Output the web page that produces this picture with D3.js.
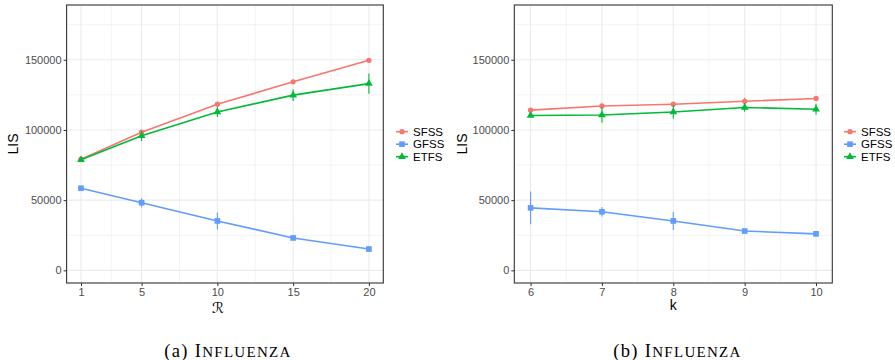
<!DOCTYPE html>
<html>
<head>
<meta charset="utf-8">
<script src="https://cdn.jsdelivr.net/npm/d3@7"></script>
<style>
  html, body { margin: 0; padding: 0; background: #fff; }
  svg { display: block; }
</style>
</head>
<body>
<svg id="chart" width="895" height="360"></svg>
<script>
// Series names and colours
const seriesNames = ["SFSS", "GFSS", "ETFS"];
const seriesColors = ["#F8766D", "#619CFF", "#00BA38"];

// Panel (a): LIS against R
const rValues = [1, 5, 10, 15, 20];
const sfssR = [79200, 98400, 118300, 134300, 149600];
const gfssR = [58500, 48200, 35200, 23100, 15200];
const etfsR = [78700, 95800, 112800, 124800, 133000];
const sfssRErr = [800, 1000, 1000, 900, 1200];
const gfssRErr = [1000, 3200, 6000, 900, 1800];
const etfsRErr = [1000, 3600, 3600, 4200, 7200];

// Panel (b): LIS against k
const kValues = [6, 7, 8, 9, 10];
const sfssK = [114100, 117100, 118300, 120400, 122400];
const gfssK = [44500, 41700, 35200, 28000, 26000];
const etfsK = [110300, 110700, 112800, 116000, 114800];
const sfssKErr = [1000, 1000, 1000, 2800, 1200];
const gfssKErr = [11600, 3300, 6400, 800, 800];
const etfsKErr = [1000, 5600, 4800, 3000, 3800];

// Axis ticks
const yTicks = [0, 50000, 100000, 150000];
const yMinor = [25000, 75000, 125000, 175000];
const yLimits = [0, 180000];
const rTicks = [1, 5, 10, 15, 20];
const rMinor = [3, 7.5, 12.5, 17.5];
const kTicks = [6, 7, 8, 9, 10];
const kMinor = [6.5, 7.5, 8.5, 9.5];

const SANS = "'Liberation Sans', Arial, Helvetica, sans-serif";
const SERIF = "'Liberation Serif', 'Times New Roman', serif";

const svg = d3.select("#chart");

function expand(lim, f) {
  const d = (lim[1] - lim[0]) * f;
  return [lim[0] - d, lim[1] + d];
}

function symbolPath(i) {
  if (i === 0) return d3.symbol().type(d3.symbolCircle).size(22)();
  if (i === 1) return d3.symbol().type(d3.symbolSquare).size(32)();
  return d3.symbol().type(d3.symbolTriangle).size(26)();
}

function drawPanel(p) {
  const g = svg.append("g");
  const x = d3.scaleLinear().domain(p.xDomain).range([p.left, p.right]);
  const y = d3.scaleLinear().domain(expand(yLimits, 0.05)).range([p.bottom, p.top]);

  // grid lines: minor first, then major
  const grid = g.append("g");
  grid.append("g").selectAll("line").data(yMinor).join("line")
    .attr("x1", p.left).attr("x2", p.right)
    .attr("y1", d => y(d)).attr("y2", d => y(d))
    .attr("stroke", "#EBEBEB").attr("stroke-width", 0.6);
  grid.append("g").selectAll("line").data(p.xMinor).join("line")
    .attr("y1", p.top).attr("y2", p.bottom)
    .attr("x1", d => x(d)).attr("x2", d => x(d))
    .attr("stroke", "#EBEBEB").attr("stroke-width", 0.6);
  grid.append("g").selectAll("line").data(yTicks).join("line")
    .attr("x1", p.left).attr("x2", p.right)
    .attr("y1", d => y(d)).attr("y2", d => y(d))
    .attr("stroke", "#EBEBEB").attr("stroke-width", 1.1);
  grid.append("g").selectAll("line").data(p.xTicks).join("line")
    .attr("y1", p.top).attr("y2", p.bottom)
    .attr("x1", d => x(d)).attr("x2", d => x(d))
    .attr("stroke", "#EBEBEB").attr("stroke-width", 1.1);

  // series: error bars, lines, points
  p.series.forEach((s, i) => {
    const color = seriesColors[i];
    const pts = p.xValues.map((xv, j) => ({ x: xv, y: s.values[j], e: s.err[j] }));
    g.append("g").selectAll("line").data(pts).join("line")
      .attr("x1", d => x(d.x)).attr("x2", d => x(d.x))
      .attr("y1", d => y(d.y - d.e)).attr("y2", d => y(d.y + d.e))
      .attr("stroke", color).attr("stroke-width", 1.1);
    g.append("path").datum(pts)
      .attr("d", d3.line().x(d => x(d.x)).y(d => y(d.y)))
      .attr("fill", "none").attr("stroke", color).attr("stroke-width", 1.6);
    g.append("g").selectAll("path").data(pts).join("path")
      .attr("transform", d => `translate(${x(d.x)},${y(d.y)})`)
      .attr("d", symbolPath(i))
      .attr("fill", color);
  });

  // panel border
  g.append("rect")
    .attr("x", p.left).attr("y", p.top)
    .attr("width", p.right - p.left).attr("height", p.bottom - p.top)
    .attr("fill", "none").attr("stroke", "#333333").attr("stroke-width", 1.1);

  // axes
  const yAxis = d3.axisLeft(y).tickValues(yTicks).tickSize(3).tickPadding(2).tickFormat(d3.format("d"));
  const ya = g.append("g").attr("transform", `translate(${p.left},0)`).call(yAxis);
  const xAxis = d3.axisBottom(x).tickValues(p.xTicks).tickSize(3).tickPadding(2).tickFormat(d3.format("d"));
  const xa = g.append("g").attr("transform", `translate(0,${p.bottom})`).call(xAxis);
  [ya, xa].forEach(ax => {
    ax.attr("font-family", SANS).attr("font-size", 11);
    ax.select(".domain").remove();
    ax.selectAll(".tick line").attr("stroke", "#333333").attr("stroke-width", 1);
    ax.selectAll(".tick text").attr("fill", "#4D4D4D");
  });

  // axis titles
  g.append("text")
    .attr("font-family", SANS).attr("font-size", 14).attr("fill", "#000")
    .attr("transform", `translate(${p.yTitleX},${(p.top + p.bottom) / 2}) rotate(-90)`)
    .attr("text-anchor", "middle").attr("dy", "0.35em").text("LIS");
  g.append("text")
    .attr("font-family", p.xTitleFont || SANS).attr("font-size", p.xTitleSize || 14).attr("fill", "#000")
    .attr("x", p.xTitleX).attr("y", p.xTitleY)
    .attr("text-anchor", "middle")
    .text(p.xTitle);

  // legend
  const lg = g.append("g").attr("transform", `translate(${p.legendX},${p.legendY})`);
  seriesNames.forEach((name, i) => {
    const row = lg.append("g").attr("transform", `translate(0,${i * 12.5})`);
    row.append("line").attr("x1", 0).attr("x2", 12).attr("y1", 0).attr("y2", 0)
      .attr("stroke", seriesColors[i]).attr("stroke-width", 1.6);
    row.append("path").attr("transform", "translate(6,0)").attr("d", symbolPath(i)).attr("fill", seriesColors[i]);
    row.append("text").attr("font-family", SANS).attr("font-size", 11.5).attr("fill", "#000")
      .attr("x", 17).attr("dy", "0.36em").text(name);
  });

  // caption: "(x) I" followed by the rest of the word as small capitals
  const cap = svg.append("text")
    .attr("font-family", SERIF).attr("font-size", 18.5).attr("fill", "#000")
    .attr("letter-spacing", 1.3)
    .attr("x", p.captionX).attr("y", 357)
    .attr("text-anchor", "middle");
  cap.append("tspan").text(p.captionTag + " I");
  cap.append("tspan").attr("font-size", 15).text("NFLUENZA");
}

drawPanel({
  left: 66.6, right: 383.3, top: 5, bottom: 283,
  xDomain: expand([1, 20], 0.05),
  xValues: rValues, xTicks: rTicks, xMinor: rMinor,
  series: [
    { values: sfssR, err: sfssRErr },
    { values: gfssR, err: gfssRErr },
    { values: etfsR, err: etfsRErr }
  ],
  yTitleX: 13, xTitle: "\u211B", xTitleX: 218, xTitleY: 313,
  xTitleFont: "'DejaVu Sans', sans-serif", xTitleSize: 15,
  legendX: 396, legendY: 131.7,
  captionTag: "(a)", captionX: 228
});

drawPanel({
  left: 514.3, right: 832.3, top: 5, bottom: 283,
  xDomain: [5.772, 10.228],
  xValues: kValues, xTicks: kTicks, xMinor: kMinor,
  series: [
    { values: sfssK, err: sfssKErr },
    { values: gfssK, err: gfssKErr },
    { values: etfsK, err: etfsKErr }
  ],
  yTitleX: 461.7, xTitle: "k", xTitleX: 673.3, xTitleY: 310,
  legendX: 844, legendY: 131.7,
  captionTag: "(b)", captionX: 677.5
});
</script>
</body>
</html>
